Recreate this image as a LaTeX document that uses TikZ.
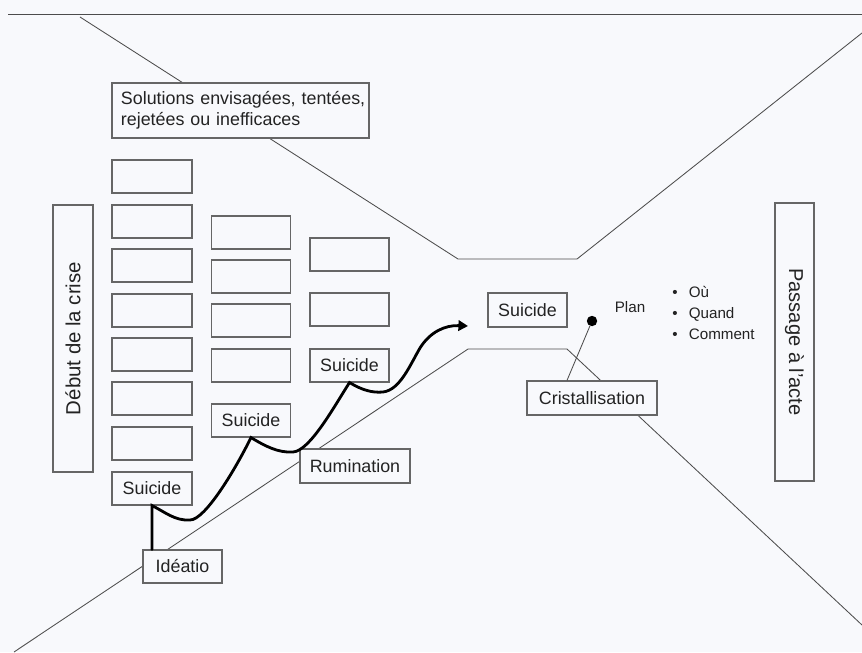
\documentclass[tikz,border=0pt]{standalone}
\usepackage{fontspec}
\setmainfont{Liberation Sans}
\usetikzlibrary{arrows.meta}

\definecolor{paper}{RGB}{248,249,252}
\definecolor{ink}{RGB}{35,35,35}
\tikzset{
  box/.style={shape=rectangle,draw=black!60,fill=paper,line width=0.8pt,inner sep=0pt,
    minimum width=2cm,minimum height=0.825cm,text=ink,font=\fontsize{12.7}{15}\selectfont},
  label/.style={inner sep=0pt,text=ink,font=\fontsize{10.8}{14.6}\selectfont},
  funnel/.style={draw=black!70,line width=0.6pt},
  climb/.style={draw=black,line width=2pt,line cap=round,-{Triangle[length=2.4mm,width=2.6mm]}}
}

\begin{document}
\begin{tikzpicture}[x=0.025cm,y=-0.025cm]
\fill[paper] (0,0) rectangle (862,652);
\useasboundingbox (0,0) rectangle (862,652);

\path [funnel] (8,14) -- (862,14);
\path [funnel] (80,17) -- (458,259) -- (577,259) -- (862,33);
\path [funnel] (14,652) -- (468,349) -- (567,349) -- (862,625);

\node[box,minimum width=6.425cm,minimum height=1.375cm,text width=5.975cm,inner xsep=0.225cm,align=left] (solutions) at (240.5,110.5) {\mbox{Solutions envisagées, tentées,}\\rejetées ou inefficaces};
\node[box,rotate=90,minimum width=6.675cm,minimum height=1cm,font=\fontsize{14.5}{16}\selectfont] (debut) at (73,338.5) {Début de la crise};
\node[box,rotate=-90,minimum width=6.95cm,minimum height=0.975cm,font=\fontsize{14.3}{16}\selectfont] (passage) at (794.5,342) {Passage à l'acte};

\node[box] (a1) at (152,176.5) {};
\node[box] (a2) at (152,221.5) {};
\node[box] (a3) at (152,265.5) {};
\node[box] (a4) at (152,310.5) {};
\node[box] (a5) at (152,354.5) {};
\node[box] (a6) at (152,398.5) {};
\node[box] (a7) at (152,443.5) {};
\node[box] (s1) at (152,488.5) {Suicide};

\node[box,minimum width=1.975cm] (b1) at (251,232.5) {};
\node[box,minimum width=1.975cm] (b2) at (251,276.5) {};
\node[box,minimum width=1.975cm] (b3) at (251,320.5) {};
\node[box,minimum width=1.975cm] (b4) at (251,365.5) {};
\node[box,minimum width=1.975cm] (s2) at (251,420.5) {Suicide};

\node[box,minimum width=1.975cm] (c1) at (349.5,254.5) {};
\node[box,minimum width=1.975cm] (c2) at (349.5,309.5) {};
\node[box,minimum width=1.975cm] (s3) at (349.5,365.5) {Suicide};

\node[box,minimum width=1.975cm] (ideatio) at (182.5,566.5) {Idéatio};
\node[box,minimum width=2.75cm,minimum height=0.85cm] (rumination) at (355,466) {Rumination};
\node[box,minimum width=1.975cm,minimum height=0.85cm] (suicide) at (527.5,310) {Suicide};
\node[box,minimum width=3.25cm,minimum height=0.85cm] (cristal) at (592,398) {Cristallisation};

\node[shape=circle,fill=black,inner sep=0pt,minimum size=0.26cm] (dot) at (592,321) {};
\node[label] (plan) at (630,307) {Plan};
\node[label,anchor=west,align=left] (lieux) at (672,313) {•\hspace{8pt}Où\\•\hspace{8pt}Quand\\•\hspace{8pt}Comment};

\path [-,draw=black!70,line width=0.6pt] (dot) -- ([xshift=-0.625cm]cristal.north);

\coordinate (tip) at (468,326);
\path [climb] (ideatio.north -| s1.south) -- (s1.south)
  .. controls (165,512) and (175,521) .. (190,520)
  .. controls (205,520) and (235,470) .. (s2.south)
  .. controls (265,446) and (278,453) .. (293,452)
  .. controls (310,451) and (335,405) .. (s3.south)
  .. controls (362,390) and (372,393) .. (383,392)
  .. controls (400,390) and (410,365) .. (420,348)
  .. controls (430,332) and (445,325) .. (tip);
\end{tikzpicture}
\end{document}
